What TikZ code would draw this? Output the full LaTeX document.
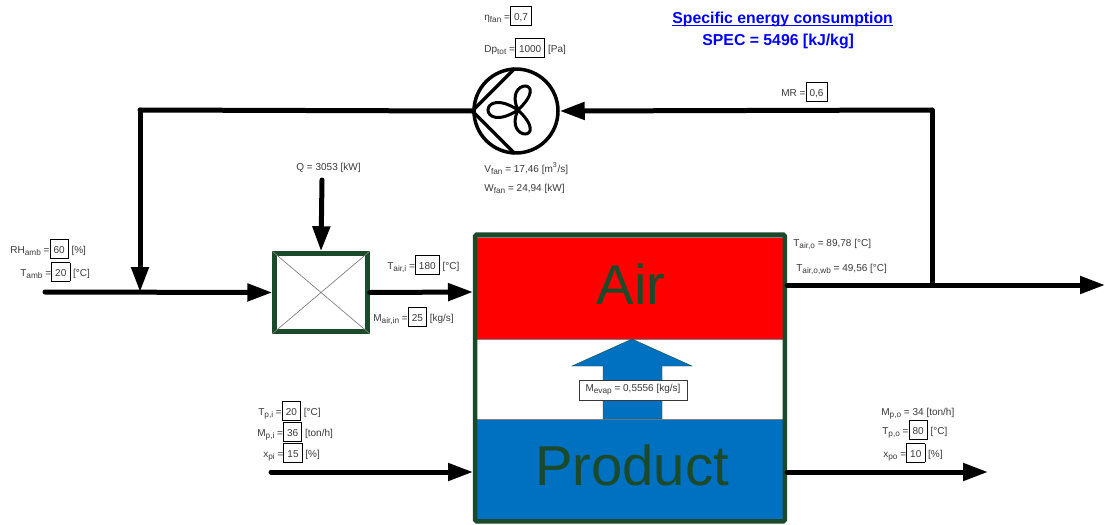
\documentclass[tikz,border=0pt]{standalone}
\usepackage{amsmath}
\usepackage{fontspec}
\setmainfont{Liberation Sans}
\usetikzlibrary{arrows.meta}
\definecolor{darkgreen}{HTML}{1B4A2A}
\definecolor{prodblue}{HTML}{0070C0}
\definecolor{textgray}{HTML}{383838}
\newcommand{\sub}[1]{\raisebox{-1.3pt}{\fontsize{4.7}{5}\selectfont #1}}
\newcommand{\valbox}[1]{\textcolor{black}{\setlength{\fboxsep}{0.6pt}\setlength{\fboxrule}{0.5pt}\fbox{\hspace{1.2pt}\rule[-2pt]{0pt}{8.6pt}\textcolor{textgray}{#1}\hspace{1.2pt}}}}
\tikzstyle{lbl}=[anchor=base west, inner sep=0pt, text=textgray, font=\fontsize{5.7}{7}\selectfont]
\tikzstyle{titlelbl}=[anchor=base west, inner sep=0pt, text=blue, font=\fontsize{9}{11}\selectfont\bfseries]
\tikzstyle{bigtext}=[anchor=base, text=darkgreen, font=\fontsize{32}{38}\selectfont, inner sep=0pt]
\tikzstyle{fanbody}=[circle, draw=black, line width=0.07cm, minimum size=1.68cm, inner sep=0pt]
\tikzstyle{heater}=[rectangle, draw=darkgreen, line width=0.09cm, minimum width=1.86cm, minimum height=1.56cm, inner sep=0pt]
\tikzstyle{zone}=[rectangle, draw=gray, line width=0.2pt, minimum width=6.16cm, inner sep=0pt]
\tikzstyle{flow}=[draw=black, line width=0.1cm, line cap=round, >={Triangle[length=5mm, width=3.4mm]}]
\begin{document}
\begin{tikzpicture}[x=0.02cm, y=-0.02cm]
	\useasboundingbox (0,0) rectangle (1105,524);
	\begin{scope}
		\node (air) at (630,288)[zone, fill=red, minimum height=2.04cm] {};
		\node (gap) at (630,379)[zone, fill=white, minimum height=1.6cm] {};
		\node (product) at (630,470)[zone, fill=prodblue, minimum height=2.04cm] {};
		\node (tower) at (630,378)[rectangle, draw=darkgreen, line width=0.09cm, rounded corners=1pt, minimum width=6.2cm, minimum height=5.74cm] {};
		\node (fan) at (516,111)[fanbody] {};
		\node (mix) at (321,292.5)[heater] {};
		\coordinate (airstart) at (45,292);
		\coordinate (airjoin) at (140,292);
		\coordinate (topleft) at (140,110);
		\coordinate (topright) at (932,110);
		\coordinate (outjoin) at (932,285);
		\coordinate (airout) at (787,285);
		\coordinate (airend) at (1105,285);
		\coordinate (airin) at (473,292);
		\coordinate (qstart) at (322,180);
		\coordinate (prodstart) at (271,472);
		\coordinate (prodin) at (473,472);
		\coordinate (prodout) at (787,472);
		\coordinate (prodend) at (988,472);
	\end{scope}
	\begin{scope}
		% evaporation arrow
		\path [fill=prodblue, draw=darkgreen, line width=0.2pt] (603,419) -- (603,366) -- (572,366) -- (632,339) -- (692,366) -- (662,366) -- (662,419) -- cycle;
		\node (evap) at (633,390)[rectangle, draw=textgray, fill=white, line width=0.5pt, minimum width=2.16cm, minimum height=0.4cm, inner sep=0pt, text=textgray, font=\fontsize{5.7}{7}\selectfont] {M\sub{evap} = 0,5556 [kg/s]};
		\node (airtext) at (631,304)[bigtext] {Air};
		\node (prodtext) at (632,485)[bigtext] {Product};
	\end{scope}
	\begin{scope}
		\path [draw=gray, line width=0.4pt] (mix.north west) -- (mix.south east);
		\path [draw=gray, line width=0.4pt] (mix.south west) -- (mix.north east);
		\path [draw=black, line width=0.07cm, shorten >=1pt] (fan.west) -- (fan.north);
		\path [draw=black, line width=0.07cm, shorten >=1pt] (fan.west) -- (fan.south);
		% fan blades
		\draw [line width=0.06cm] (518,110) .. controls (503,78) and (552,78) .. (518,110);
		\draw [line width=0.06cm] (518,110) .. controls (478,84) and (478,136) .. (518,110);
		\draw [line width=0.06cm] (518,110) .. controls (503,142) and (552,142) .. (518,110);
	\end{scope}
	\begin{scope}
		\path [flow] (topright) edge [->] (fan.east);
		\path [flow] (fan.west) edge (topleft);
		\path [flow] (topleft) edge [->] (airjoin);
		\path [flow] (airstart) edge [->] (mix.west);
		\path [flow] (qstart) edge [->] (mix.north);
		\path [flow] (mix.east) edge [->] (airin);
		\path [flow] (airout) edge [->] (airend);
		\path [flow] (outjoin) edge (topright);
		\path [flow] (prodstart) edge [->] (prodin);
		\path [flow] (prodout) edge [->] (prodend);
	\end{scope}
	\begin{scope}
		\node (title) at (672,23)[titlelbl] {\underline{\smash{Specific energy consumption}}};
		\node (spec) at (702,45)[titlelbl] {SPEC = 5496 [kJ/kg]};
		\node (etafan) at (484,20)[lbl] {η\sub{fan} =\valbox{0,7}};
		\node (dptot) at (484,52)[lbl] {Dp\sub{tot} =\valbox{1000} [Pa]};
		\node (vfan) at (484,172)[lbl] {V\sub{fan} = 17,46 [m$^{\text{3}}$/s]};
		\node (wfan) at (484,191)[lbl] {W\sub{fan} = 24,94 [kW]};
		\node (mr) at (781,96)[lbl] {MR =\valbox{0,6}};
		\node (qheat) at (296,170)[lbl] {Q = 3053 [kW]};
		\node (rhamb) at (10,253)[lbl] {RH\sub{amb} =\valbox{60} [\%]};
		\node (tamb) at (20,276)[lbl] {T\sub{amb} =\valbox{20} [°C]};
		\node (tairi) at (387,269)[lbl] {T\sub{air,i} =\valbox{180} [°C]};
		\node (mairin) at (373,321)[lbl] {M\sub{air,in} =\valbox{25} [kg/s]};
		\node (tairo) at (793,246)[lbl] {T\sub{air,o} = 89,78 [°C]};
		\node (tairwb) at (796,271)[lbl] {T\sub{air,o,wb} = 49,56 [°C]};
		\node (tpi) at (258,415)[lbl] {T\sub{p,i} =\valbox{20} [°C]};
		\node (mpi) at (257,436)[lbl] {M\sub{p,i} =\valbox{36} [ton/h]};
		\node (xpi) at (263,457)[lbl] {x\sub{pi} =\valbox{15} [\%]};
		\node (mpo) at (881,415)[lbl] {M\sub{p,o} = 34 [ton/h]};
		\node (tpo) at (882,434)[lbl] {T\sub{p,o} =\valbox{80} [°C]};
		\node (xpo) at (883,457)[lbl] {x\sub{po} =\valbox{10} [\%]};
	\end{scope}
\end{tikzpicture}
\end{document}
